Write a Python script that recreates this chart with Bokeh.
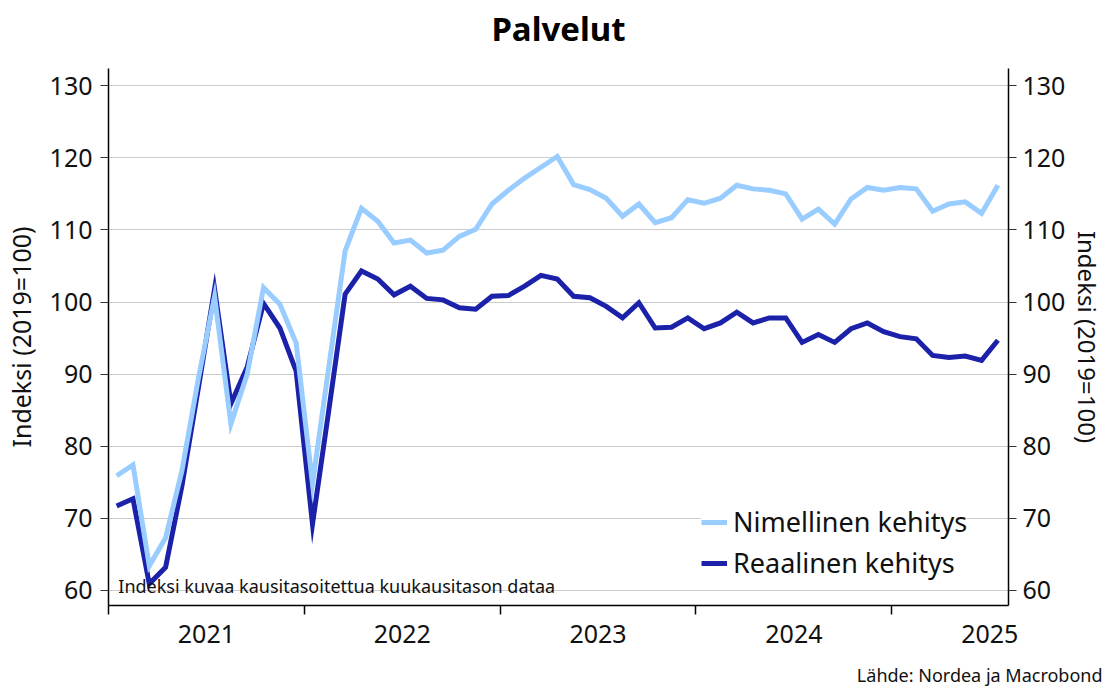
from bokeh.plotting import figure
from bokeh.models import Range1d, LinearAxis, FixedTicker, Label, Legend, LegendItem, ColumnDataSource, Title
from bokeh.embed import file_html
from bokeh.resources import INLINE

# Monthly data Jan 2021 .. Jul 2025
months = [f"{2021 + i // 12}-{i % 12 + 1:02d}" for i in range(55)]
nimellinen = [75.9, 77.4, 63.4, 67.3, 76.6, 89.3, 100.8, 83.1, 90.0, 102.0, 99.7, 94.3, 74.8,
              91.0,
              107.1, 113.0, 111.2, 108.2, 108.6, 106.8, 107.2, 109.1, 110.1, 113.6, 115.5, 117.2, 118.7, 120.2,
              116.3, 115.6, 114.4, 111.9, 113.6, 111.0, 111.7, 114.2, 113.7, 114.4, 116.2, 115.7, 115.5, 115.0,
              111.5, 112.9, 110.8, 114.3, 115.9, 115.5, 115.9, 115.7, 112.6, 113.6, 113.9, 112.3, 116.2]
reaalinen = [71.7, 72.7, 60.9, 63.2, 74.5, 88.0, 101.8, 85.9, 91.0, 99.8, 96.4, 90.4, 69.2, 85.0,
             101.1, 104.3, 103.2, 101.0, 102.2, 100.5, 100.3, 99.2, 99.0, 100.8, 100.9, 102.2, 103.7, 103.2,
             100.8, 100.6, 99.4, 97.8, 99.9, 96.4, 96.5, 97.8, 96.3, 97.1, 98.6, 97.1, 97.8, 97.8,
             94.4, 95.5, 94.4, 96.3, 97.1, 95.9, 95.2, 94.9, 92.6, 92.3, 92.5, 91.9, 94.7]
years = ["2021", "2022", "2023", "2024", "2025"]
y_ticks = [60, 70, 80, 90, 100, 110, 120, 130]

# month position (mid-month), months counted from Jan 2021
xpos = [(int(m[:4]) - 2021) * 12 + int(m[5:]) - 1 + 0.5 for m in months]
src = ColumnDataSource(dict(x=xpos, nom=nimellinen, real=reaalinen))

FONT = "Noto Sans"
LIGHT = "#99ccff"
DARK = "#1b21a8"
TXT = "#111111"

p = figure(width=1107, height=686, output_backend="svg", toolbar_location=None,
           x_range=Range1d(0, 55.15), y_range=Range1d(57.9, 132.4),
           min_border_left=108, min_border_right=97, min_border_top=68, min_border_bottom=81)
p.outline_line_color = None
p.background_fill_color = "white"
p.border_fill_color = "white"

# spacer + title above the frame
p.add_layout(Title(text=" ", text_font_size="1px", standoff=15), "above")
p.add_layout(Title(text="Palvelut", align="center", standoff=0, text_font=FONT,
                   text_font_size="33px", text_font_style="bold", text_color="#000000"), "above")

p.xgrid.visible = False
p.ygrid.ticker = FixedTicker(ticks=y_ticks)
p.ygrid.grid_line_color = "#cccccc"
p.ygrid.grid_line_width = 1

# x axis: labels at mid-year, ticks at year boundaries
xa = p.xaxis[0]
year_mid = [i * 12 + 6 for i in range(len(years))]
year_start = [i * 12 for i in range(len(years))]
xa.ticker = FixedTicker(ticks=year_mid, minor_ticks=year_start)
xa.major_label_overrides = {m: y for m, y in zip(year_mid, years)}
xa.major_tick_line_color = None
xa.minor_tick_line_color = "#000000"
xa.minor_tick_out = 9
xa.minor_tick_in = 0
xa.minor_tick_line_width = 1.5
xa.axis_line_color = "#000000"
xa.axis_line_width = 1.5
xa.major_label_text_font = FONT
xa.major_label_text_font_size = "25px"
xa.major_label_text_color = TXT
xa.major_label_standoff = 10

def style_y(ax, label_size, label_standoff, tick_standoff):
    ax.ticker = FixedTicker(ticks=y_ticks)
    ax.axis_label = "Indeksi (2019=100)"
    ax.axis_label_text_font = FONT
    ax.axis_label_text_font_size = label_size
    ax.axis_label_text_font_style = "normal"
    ax.axis_label_text_color = TXT
    ax.axis_label_standoff = label_standoff
    ax.major_label_text_font = FONT
    ax.major_label_text_font_size = "25px"
    ax.major_label_text_color = TXT
    ax.major_label_standoff = tick_standoff
    ax.major_tick_out = 8
    ax.major_tick_in = 0
    ax.major_tick_line_color = "#333333"
    ax.minor_tick_line_color = None
    ax.axis_line_color = "#000000"
    ax.axis_line_width = 1.5

style_y(p.yaxis[0], "25px", 9, 8)
ra = LinearAxis()
style_y(ra, "24px", 3, 6)
p.add_layout(ra, "right")

r_dark = p.line("x", "real", source=src, line_color=DARK, line_width=5, line_join="miter")
r_light = p.line("x", "nom", source=src, line_color=LIGHT, line_width=5, line_join="miter")

legend = Legend(items=[LegendItem(label="Nimellinen kehitys", renderers=[r_light]),
                       LegendItem(label="Reaalinen kehitys", renderers=[r_dark])],
                location=(593, 24), border_line_color=None, background_fill_color="white",
                background_fill_alpha=1.0, label_text_font=FONT, label_text_font_size="27px",
                label_text_color=TXT, glyph_width=26, glyph_height=30, label_height=30,
                spacing=4, padding=3, label_standoff=6, margin=0)
p.add_layout(legend)

note = Label(x=0.6, y=58.9, text="Indeksi kuvaa kausitasoitettua kuukausitason dataa",
             text_font=FONT, text_font_size="18px", text_color=TXT)
p.add_layout(note)

# spacer + source text below the x axis
p.add_layout(Title(text=" ", text_font_size="1px", standoff=12), "below")
p.add_layout(Title(text="Lähde: Nordea ja Macrobond", align="right", offset=-94, standoff=0,
                   text_font=FONT, text_font_size="18px", text_font_style="normal",
                   text_color=TXT), "below")

open("out.html", "w").write(file_html(p, INLINE))
